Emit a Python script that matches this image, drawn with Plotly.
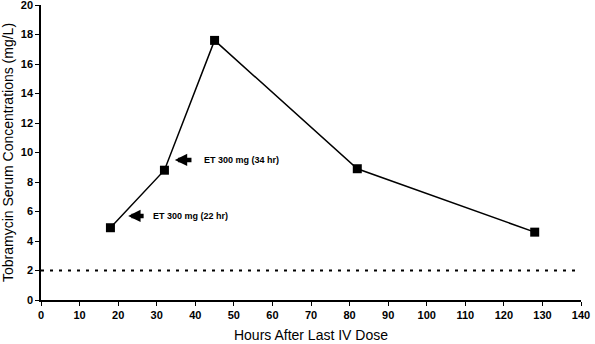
import plotly.graph_objects as go

hours = [18, 32, 45, 82, 128]
conc = [4.9, 8.8, 17.6, 8.9, 4.6]
threshold_x = [0, 140]
threshold_y = [2, 2]
ann_labels = ["ET 300 mg (22 hr)", "ET 300 mg (34 hr)"]
ann_tip_x = [22.6, 34.7]
ann_tail_x = [27.0, 39.4]
ann_y = [5.7, 9.5]
ann_text_x = [28.4, 41.7]
x_ticks = list(range(0, 141, 10))
y_ticks = list(range(0, 21, 2))

fig = go.Figure()
fig.add_trace(go.Scatter(x=threshold_x, y=threshold_y, mode="lines",
                         line=dict(color="black", width=2, dash="3px,6px"),
                         showlegend=False, hoverinfo="skip"))
fig.add_trace(go.Scatter(x=hours, y=conc, mode="lines+markers",
                         line=dict(color="black", width=1.5),
                         marker=dict(symbol="square", size=9, color="black"),
                         showlegend=False))

for lab, tx, tl, yy, xx in zip(ann_labels, ann_tip_x, ann_tail_x, ann_y, ann_text_x):
    fig.add_annotation(x=tx, y=yy, ax=tl, ay=yy, xref="x", yref="y", axref="x", ayref="y",
                       text="", showarrow=True, arrowhead=2, arrowsize=0.55, arrowwidth=4.5,
                       arrowcolor="black", standoff=0)
    fig.add_annotation(x=xx, y=yy, xref="x", yref="y", text=lab, showarrow=False,
                       xanchor="left", yanchor="middle",
                       font=dict(family="Liberation Sans, Arial", size=9, color="black", weight="bold"))

tick_font = dict(family="Liberation Sans, Arial", size=11, color="black", weight="bold")
title_font = dict(family="Liberation Sans, Arial", size=14, color="black")

fig.update_layout(
    width=595, height=344,
    margin=dict(l=41, r=14, t=5, b=44),
    paper_bgcolor="white", plot_bgcolor="white",
    xaxis=dict(range=[0, 140], tickvals=x_ticks, ticks="outside", ticklen=4, tickcolor="black",
               showline=True, linecolor="black", linewidth=1.5, showgrid=False, zeroline=False,
               automargin=False, ticklabeloverflow="allow",
               tickfont=tick_font, title=dict(text="Hours After Last IV Dose", font=title_font, standoff=10)),
    yaxis=dict(range=[0, 20], tickvals=y_ticks, ticks="outside", ticklen=4, tickcolor="black",
               showline=True, linecolor="black", linewidth=1.5, showgrid=False, zeroline=False,
               automargin=False, ticklabeloverflow="allow",
               tickfont=tick_font, title=dict(text="Tobramycin Serum Concentrations (mg/L)", font=title_font, standoff=7)),
)
fig.write_html("out.html", config={"displayModeBar": False},
               post_script="document.body.style.margin='0';document.body.style.overflow='hidden';")
